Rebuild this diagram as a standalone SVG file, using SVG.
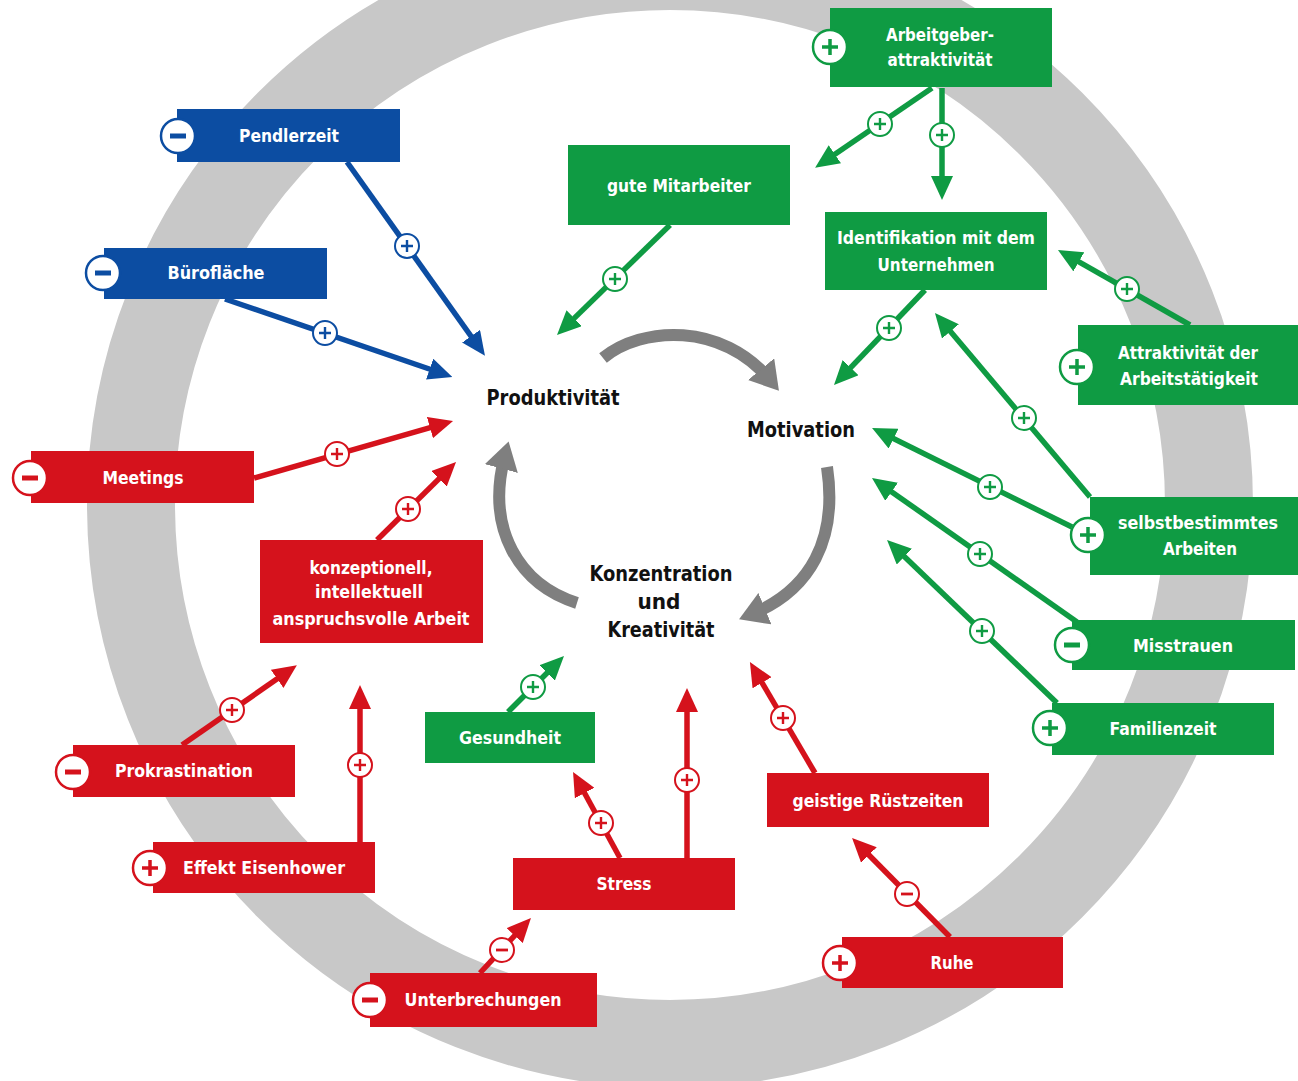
<svg xmlns="http://www.w3.org/2000/svg" xmlns:xlink="http://www.w3.org/1999/xlink" width="1298" height="1081" viewBox="0 0 1298 1081">
<style>
.lbl{font-family:"Liberation Sans Narrow","DejaVu Sans Condensed","Liberation Sans",Arial,sans-serif;font-weight:bold;font-size:18px;fill:#fff;text-anchor:middle}
.ctr{font-family:"Liberation Sans Narrow","DejaVu Sans Condensed","Liberation Sans",Arial,sans-serif;font-weight:bold;font-size:21px;fill:#111;text-anchor:middle}
.b{color:#0c4da2}.r{color:#d5121c}.g{color:#0f9b43}
.bf{fill:#0c4da2}.rf{fill:#d5121c}.gf{fill:#0f9b43}
.lb{stroke:#0c4da2;stroke-width:5.5;fill:none;marker-end:url(#aB)}
.lr{stroke:#d5121c;stroke-width:5.5;fill:none;marker-end:url(#aR)}
.lg{stroke:#0f9b43;stroke-width:5.5;fill:none;marker-end:url(#aG)}
.arc{stroke:#7f7f7f;stroke-width:12;fill:none;marker-end:url(#aK)}
</style>
<defs>
<marker id="aB" viewBox="0 0 24 22" refX="12" refY="11" markerWidth="24" markerHeight="22" markerUnits="userSpaceOnUse" orient="auto"><path d="M0,0L24,11L0,22z" fill="#0c4da2"/></marker>
<marker id="aR" viewBox="0 0 24 22" refX="12" refY="11" markerWidth="24" markerHeight="22" markerUnits="userSpaceOnUse" orient="auto"><path d="M0,0L24,11L0,22z" fill="#d5121c"/></marker>
<marker id="aG" viewBox="0 0 24 22" refX="12" refY="11" markerWidth="24" markerHeight="22" markerUnits="userSpaceOnUse" orient="auto"><path d="M0,0L24,11L0,22z" fill="#0f9b43"/></marker>
<marker id="aK" viewBox="0 0 28 34" refX="14" refY="17" markerWidth="28" markerHeight="34" markerUnits="userSpaceOnUse" orient="auto"><path d="M0,0L28,17L0,34z" fill="#7f7f7f"/></marker>
<g id="sp"><circle r="12" fill="#fff" stroke="currentColor" stroke-width="2"/><path d="M-6,0H6M0,-6V6" stroke="currentColor" stroke-width="2.4"/></g>
<g id="sm"><circle r="12" fill="#fff" stroke="currentColor" stroke-width="2"/><path d="M-6,0H6" stroke="currentColor" stroke-width="2.8"/></g>
<g id="bp"><circle r="17" fill="#fff" stroke="currentColor" stroke-width="2.5"/><path d="M-8,0H8M0,-8V8" stroke="currentColor" stroke-width="3.5"/></g>
<g id="bm"><circle r="17" fill="#fff" stroke="currentColor" stroke-width="2.5"/><path d="M-8,0H8" stroke="currentColor" stroke-width="5"/></g>
</defs>
<rect width="1298" height="1081" fill="#fff"/>
<circle cx="670" cy="505" r="539" fill="none" stroke="#c8c8c8" stroke-width="88"/>

<g id="cycle">
<path class="arc" d="M603,358 C642,326 722,322 770,380"/>
<path class="arc" d="M827,467 C838,540 810,590 752,614"/>
<path class="arc" d="M577,603 C520,585 485,530 505,455"/>
</g>

<g id="connectors">
<line class="lb" x1="347" y1="162" x2="478" y2="346"/>
<line class="lb" x1="225" y1="299" x2="441" y2="373"/>
<line class="lr" x1="254" y1="478" x2="441.5" y2="424.3"/>
<line class="lr" x1="377" y1="540" x2="447.5" y2="470.4"/>
<line class="lr" x1="182" y1="745" x2="287" y2="672"/>
<line class="lr" x1="360" y1="842" x2="360" y2="697"/>
<line class="lr" x1="620" y1="858" x2="578.8" y2="782.5"/>
<line class="lr" x1="687" y1="858" x2="687" y2="700"/>
<line class="lr" x1="480" y1="973" x2="522.8" y2="926.8"/>
<line class="lr" x1="815" y1="773" x2="756" y2="672.4"/>
<line class="lr" x1="950" y1="937" x2="860.5" y2="846.5"/>
<line class="lg" x1="932" y1="88" x2="825" y2="161"/>
<line class="lg" x1="942" y1="88" x2="942" y2="188"/>
<line class="lg" x1="670" y1="225" x2="565.6" y2="326.6"/>
<line class="lg" x1="925" y1="290" x2="842.3" y2="376.3"/>
<line class="lg" x1="1190" y1="325" x2="1068.4" y2="255.9"/>
<line class="lg" x1="1090" y1="497" x2="942.7" y2="322.2"/>
<line class="lg" x1="1072" y1="527" x2="882.8" y2="433.3"/>
<line class="lg" x1="1077" y1="622" x2="881.8" y2="484.9"/>
<line class="lg" x1="1057" y1="703" x2="895.7" y2="548.3"/>
<line class="lg" x1="508" y1="712" x2="555.5" y2="664.5"/>
<use href="#sp" x="407" y="246" class="b"/>
<use href="#sp" x="325" y="333" class="b"/>
<use href="#sp" x="337" y="454" class="r"/>
<use href="#sp" x="408" y="509" class="r"/>
<use href="#sp" x="232" y="710" class="r"/>
<use href="#sp" x="360" y="765" class="r"/>
<use href="#sp" x="601" y="823" class="r"/>
<use href="#sp" x="687" y="780" class="r"/>
<use href="#sm" x="502" y="950" class="r"/>
<use href="#sp" x="783" y="718" class="r"/>
<use href="#sm" x="907" y="894" class="r"/>
<use href="#sp" x="880" y="124" class="g"/>
<use href="#sp" x="942" y="135" class="g"/>
<use href="#sp" x="615" y="279" class="g"/>
<use href="#sp" x="889" y="328" class="g"/>
<use href="#sp" x="1127" y="289" class="g"/>
<use href="#sp" x="1024" y="418" class="g"/>
<use href="#sp" x="990" y="487" class="g"/>
<use href="#sp" x="980" y="554" class="g"/>
<use href="#sp" x="982" y="631" class="g"/>
<use href="#sp" x="533" y="687" class="g"/>
</g>

<g id="n-produktivitaet"><text class="ctr" x="553" y="405" textLength="133" lengthAdjust="spacingAndGlyphs">Produktivität</text></g>
<g id="n-motivation"><text class="ctr" x="801" y="437" textLength="108" lengthAdjust="spacingAndGlyphs">Motivation</text></g>
<g id="n-konzentration"><text class="ctr" x="661" y="581" textLength="143" lengthAdjust="spacingAndGlyphs">Konzentration</text><text class="ctr" x="659" y="609" textLength="43" lengthAdjust="spacingAndGlyphs">und</text><text class="ctr" x="661" y="637" textLength="107" lengthAdjust="spacingAndGlyphs">Kreativität</text></g>

<g id="n-pendlerzeit"><rect class="bf" x="177" y="109" width="223" height="53"/><use href="#bm" x="178" y="136" class="b"/><text class="lbl" x="289" y="142" textLength="100" lengthAdjust="spacingAndGlyphs">Pendlerzeit</text></g>
<g id="n-buroflaeche"><rect class="bf" x="104" y="248" width="223" height="51"/><use href="#bm" x="103" y="273" class="b"/><text class="lbl" x="216" y="279" textLength="97" lengthAdjust="spacingAndGlyphs">Bürofläche</text></g>

<g id="n-meetings"><rect class="rf" x="31" y="451" width="223" height="52"/><use href="#bm" x="30" y="478" class="r"/><text class="lbl" x="143" y="484" textLength="81" lengthAdjust="spacingAndGlyphs">Meetings</text></g>
<g id="n-konzeptionell"><rect class="rf" x="260" y="540" width="223" height="103"/><text class="lbl" x="371" y="574" textLength="123" lengthAdjust="spacingAndGlyphs">konzeptionell,</text><text class="lbl" x="369" y="598" textLength="108" lengthAdjust="spacingAndGlyphs">intellektuell</text><text class="lbl" x="371" y="625" textLength="197" lengthAdjust="spacingAndGlyphs">anspruchsvolle Arbeit</text></g>
<g id="n-prokrastination"><rect class="rf" x="73" y="745" width="222" height="52"/><use href="#bm" x="73" y="772" class="r"/><text class="lbl" x="184" y="777" textLength="138" lengthAdjust="spacingAndGlyphs">Prokrastination</text></g>
<g id="n-eisenhower"><rect class="rf" x="153" y="842" width="222" height="51"/><use href="#bp" x="150" y="868" class="r"/><text class="lbl" x="264" y="874" textLength="162" lengthAdjust="spacingAndGlyphs">Effekt Eisenhower</text></g>
<g id="n-stress"><rect class="rf" x="513" y="858" width="222" height="52"/><text class="lbl" x="624" y="890" textLength="55" lengthAdjust="spacingAndGlyphs">Stress</text></g>
<g id="n-unterbrechungen"><rect class="rf" x="370" y="973" width="227" height="54"/><use href="#bm" x="370" y="1000" class="r"/><text class="lbl" x="483" y="1006" textLength="157" lengthAdjust="spacingAndGlyphs">Unterbrechungen</text></g>
<g id="n-ruestzeiten"><rect class="rf" x="767" y="773" width="222" height="54"/><text class="lbl" x="878" y="807" textLength="171" lengthAdjust="spacingAndGlyphs">geistige Rüstzeiten</text></g>
<g id="n-ruhe"><rect class="rf" x="842" y="937" width="221" height="51"/><use href="#bp" x="840" y="963" class="r"/><text class="lbl" x="952" y="969" textLength="43" lengthAdjust="spacingAndGlyphs">Ruhe</text></g>

<g id="n-arbeitgeber"><rect class="gf" x="830" y="8" width="222" height="79"/><use href="#bp" x="830" y="47" class="g"/><text class="lbl" x="940" y="41" textLength="108" lengthAdjust="spacingAndGlyphs">Arbeitgeber-</text><text class="lbl" x="940" y="66" textLength="105" lengthAdjust="spacingAndGlyphs">attraktivität</text></g>
<g id="n-identifikation"><rect class="gf" x="825" y="212" width="222" height="78"/><text class="lbl" x="936" y="244" textLength="198" lengthAdjust="spacingAndGlyphs">Identifikation mit dem</text><text class="lbl" x="936" y="271" textLength="117" lengthAdjust="spacingAndGlyphs">Unternehmen</text></g>
<g id="n-mitarbeiter"><rect class="gf" x="568" y="145" width="222" height="80"/><text class="lbl" x="679" y="192" textLength="144" lengthAdjust="spacingAndGlyphs">gute Mitarbeiter</text></g>
<g id="n-gesundheit"><rect class="gf" x="425" y="712" width="170" height="51"/><text class="lbl" x="510" y="744" textLength="102" lengthAdjust="spacingAndGlyphs">Gesundheit</text></g>
<g id="n-attraktivitaet"><rect class="gf" x="1078" y="325" width="220" height="80"/><use href="#bp" x="1077" y="367" class="g"/><text class="lbl" x="1188" y="359" textLength="140" lengthAdjust="spacingAndGlyphs">Attraktivität der</text><text class="lbl" x="1189" y="385" textLength="138" lengthAdjust="spacingAndGlyphs">Arbeitstätigkeit</text></g>
<g id="n-selbstbestimmt"><rect class="gf" x="1090" y="497" width="208" height="78"/><use href="#bp" x="1088" y="535" class="g"/><text class="lbl" x="1198" y="529" textLength="160" lengthAdjust="spacingAndGlyphs">selbstbestimmtes</text><text class="lbl" x="1200" y="555" textLength="74" lengthAdjust="spacingAndGlyphs">Arbeiten</text></g>
<g id="n-misstrauen"><rect class="gf" x="1072" y="620" width="223" height="50"/><use href="#bm" x="1072" y="645" class="g"/><text class="lbl" x="1183" y="652" textLength="100" lengthAdjust="spacingAndGlyphs">Misstrauen</text></g>
<g id="n-familienzeit"><rect class="gf" x="1052" y="703" width="222" height="52"/><use href="#bp" x="1050" y="728" class="g"/><text class="lbl" x="1163" y="735" textLength="107" lengthAdjust="spacingAndGlyphs">Familienzeit</text></g>
</svg>
